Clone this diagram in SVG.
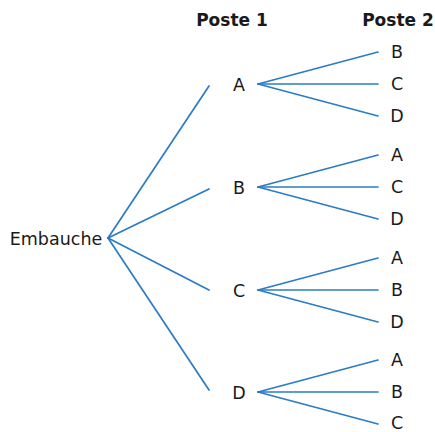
<svg xmlns="http://www.w3.org/2000/svg" width="435" height="432" viewBox="0 0 435 432">
<style>
.t{font-family:"DejaVu Sans",sans-serif;font-size:17.5px;fill:#1a1a1a;text-anchor:middle}
.h{font-family:"DejaVu Sans",sans-serif;font-size:17px;font-weight:bold;fill:#1a1a1a;text-anchor:middle}
.c line{stroke:#2b7cc4;stroke-width:1.7;stroke-linecap:round}
</style>
<rect width="435" height="432" fill="#fff"/>
<text class="h" x="232" y="26">Poste 1</text>
<text class="h" x="398" y="26">Poste 2</text>
<g class="c" id="connectors">
<line x1="108" y1="238" x2="209" y2="86"/>
<line x1="108" y1="238" x2="209" y2="189"/>
<line x1="108" y1="238" x2="209" y2="290"/>
<line x1="108" y1="238" x2="209" y2="390"/>
<line x1="258" y1="84" x2="378" y2="52"/>
<line x1="258" y1="84" x2="378" y2="84"/>
<line x1="258" y1="84" x2="378" y2="116"/>
<line x1="258" y1="187" x2="378" y2="155"/>
<line x1="258" y1="187" x2="378" y2="187"/>
<line x1="258" y1="187" x2="378" y2="219"/>
<line x1="258" y1="290" x2="378" y2="258"/>
<line x1="258" y1="290" x2="378" y2="290"/>
<line x1="258" y1="290" x2="378" y2="322"/>
<line x1="258" y1="392" x2="378" y2="360"/>
<line x1="258" y1="392" x2="378" y2="392"/>
<line x1="258" y1="392" x2="378" y2="424"/>
</g>
<g id="root"><text class="t" x="56" y="245">Embauche</text></g>
<g id="p1A"><text class="t" x="239" y="91">A</text></g>
<g id="p1B"><text class="t" x="239" y="194">B</text></g>
<g id="p1C"><text class="t" x="239" y="297">C</text></g>
<g id="p1D"><text class="t" x="239" y="399">D</text></g>
<g id="aB"><text class="t" x="397" y="58">B</text></g>
<g id="aC"><text class="t" x="397" y="90">C</text></g>
<g id="aD"><text class="t" x="397" y="122">D</text></g>
<g id="bA"><text class="t" x="397" y="161">A</text></g>
<g id="bC"><text class="t" x="397" y="193">C</text></g>
<g id="bD"><text class="t" x="397" y="225">D</text></g>
<g id="cA"><text class="t" x="397" y="264">A</text></g>
<g id="cB"><text class="t" x="397" y="296">B</text></g>
<g id="cD"><text class="t" x="397" y="328">D</text></g>
<g id="dA"><text class="t" x="397" y="366">A</text></g>
<g id="dB"><text class="t" x="397" y="398">B</text></g>
<g id="dC"><text class="t" x="397" y="429">C</text></g>
</svg>
